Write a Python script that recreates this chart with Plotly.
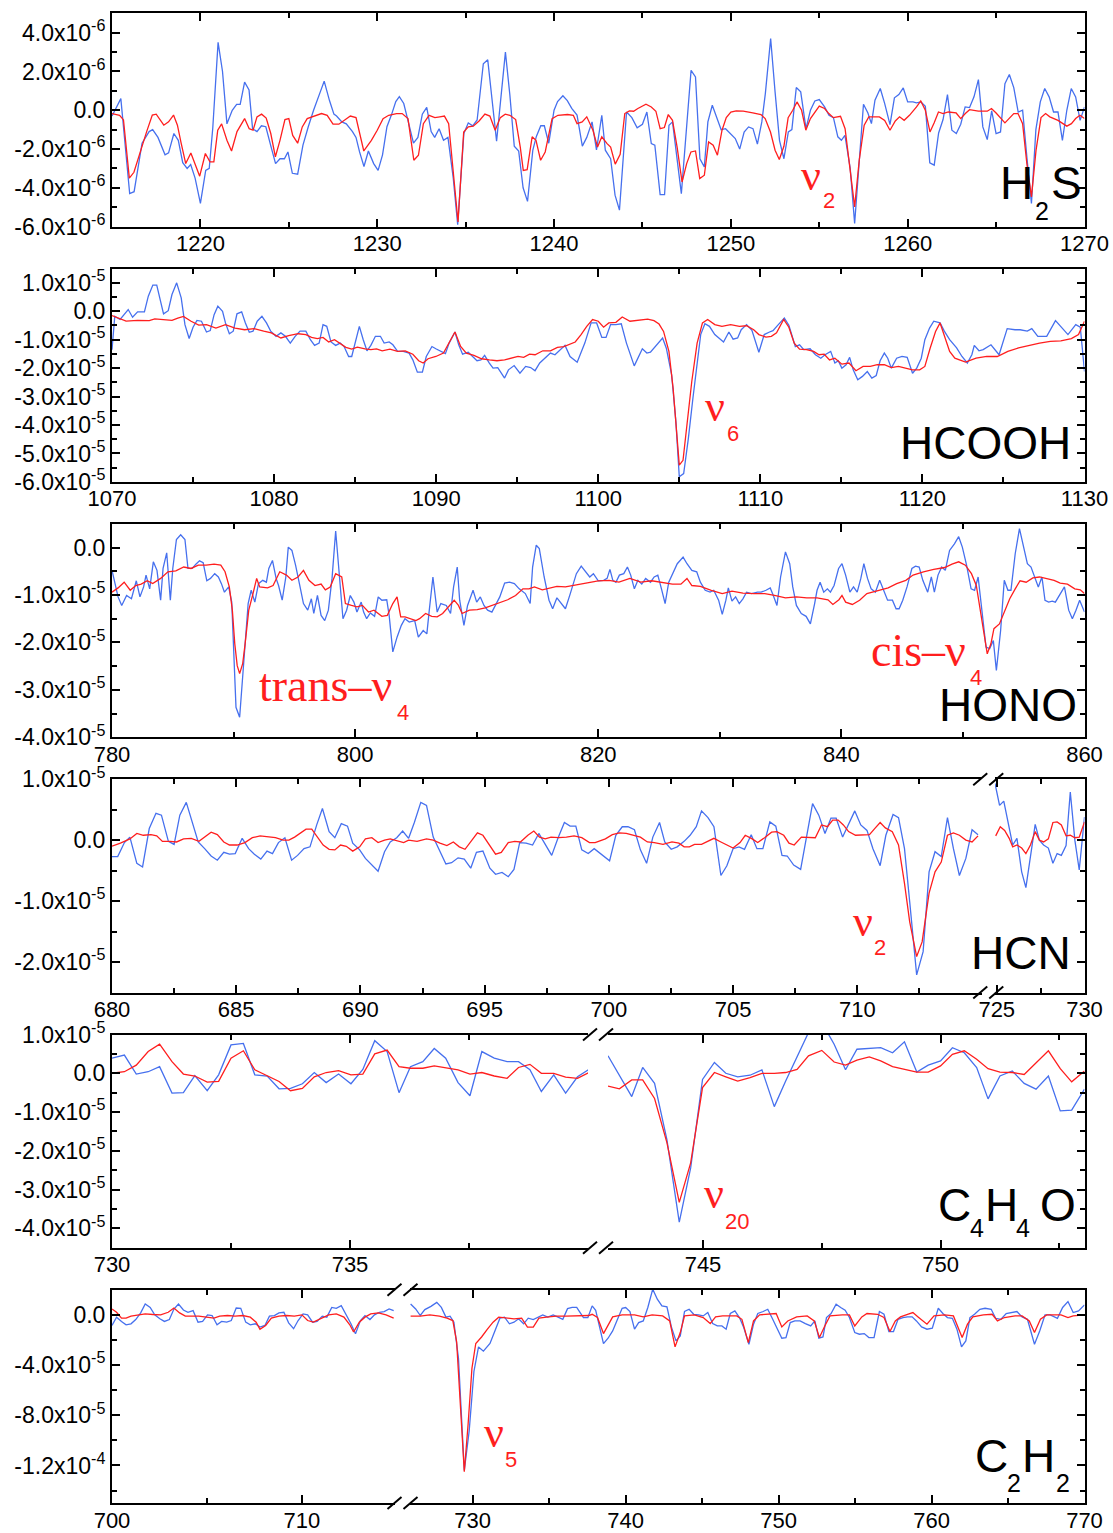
import plotly.graph_objects as go

W, H = 1113, 1533
FONT = "Liberation Sans, Arial, Helvetica, sans-serif"
SERIF = "Liberation Serif, Times New Roman, serif"
BLUE = "rgb(70,112,238)"
RED = "rgb(255,30,30)"

# ---------------- data (y in the panel's unit) ----------------
# H2S, unit 1e-6
h2s_blue_x = [
    1215.0, 1215.5, 1216.0, 1216.25, 1216.7, 1217.1, 1217.3, 1217.6, 1218.0, 1218.2,
    1218.5, 1218.75, 1219.0, 1219.25, 1219.45, 1219.7, 1220.0, 1220.3, 1220.5, 1220.7,
    1221.0, 1221.25, 1221.5, 1221.8, 1222.05, 1222.25, 1222.5, 1222.75, 1222.95, 1223.2,
    1223.45, 1223.7, 1224.0, 1224.25, 1224.5, 1224.75, 1224.95, 1225.2, 1225.5, 1225.8,
    1226.1, 1226.4, 1226.8, 1227.0, 1227.3, 1227.55, 1227.7, 1228.0, 1228.25, 1228.6,
    1228.8, 1229.0, 1229.25, 1229.5, 1229.8, 1230.05, 1230.3, 1230.55, 1230.8, 1231.05,
    1231.25, 1231.5, 1231.8, 1232.05, 1232.3, 1232.55, 1232.8, 1233.05, 1233.25, 1233.5,
    1233.75, 1234.0, 1234.3, 1234.55, 1234.9, 1235.15, 1235.4, 1235.65, 1236.0, 1236.25,
    1236.75, 1237.0, 1237.25, 1237.5, 1237.75, 1238.0, 1238.25, 1238.5, 1238.8, 1239.0,
    1239.25, 1239.45, 1239.7, 1240.0, 1240.2, 1240.5, 1240.75, 1241.0, 1241.3, 1241.6,
    1241.85, 1242.15, 1242.4, 1242.7, 1242.9, 1243.2, 1243.45, 1243.7, 1244.1, 1244.4,
    1244.7, 1245.0, 1245.25, 1245.5, 1245.7, 1246.0, 1246.25, 1246.5, 1246.7, 1247.2,
    1247.75, 1248.0, 1248.25, 1248.5, 1248.7, 1248.95, 1249.2, 1249.45, 1249.7, 1250.0,
    1250.25, 1250.5, 1250.75, 1251.0, 1251.25, 1251.5, 1251.75, 1251.95, 1252.25, 1252.5,
    1252.75, 1253.0, 1253.25, 1253.45, 1253.7, 1253.95, 1254.25, 1254.5, 1254.75, 1255.0,
    1255.3, 1255.55, 1255.8, 1256.05, 1256.25, 1256.45, 1256.75, 1257.0, 1257.25, 1257.5,
    1257.75, 1257.95, 1258.15, 1258.45, 1258.7, 1259.0, 1259.25, 1259.5, 1259.75, 1260.0,
    1260.3, 1260.5, 1260.75, 1261.0, 1261.25, 1261.5, 1261.75, 1262.0, 1262.25, 1262.5,
    1262.75, 1263.0, 1263.25, 1263.5, 1263.75, 1264.0, 1264.25, 1264.5, 1264.75, 1265.0,
    1265.25, 1265.5, 1265.75, 1266.0, 1266.25, 1266.5, 1266.75, 1267.0, 1267.25, 1267.5,
    1267.75, 1268.0, 1268.25, 1268.5, 1268.75, 1269.0, 1269.25, 1269.5, 1269.75, 1270.0,
]
h2s_blue_y = [
    -0.3, 0.6, -4.3, -4.2, -1.7, -1.1, -1.0, -1.4, -2.3, -2.2,
    -1.2, -1.55, -2.7, -3.0, -2.8, -3.5, -4.8, -3.1, -3.0, -0.9,
    3.5, 2.0, -0.7, 0.0, 0.3, 0.3, 1.45, 1.05, -0.95, -1.1,
    -0.8, -0.85, -1.9, -2.75, -2.5, -2.5, -2.15, -3.25, -3.3, -1.8,
    -0.85, 0.0, 1.0, 1.5, 0.5, -0.2, -0.3, -0.6, -0.7, -1.1,
    -1.4, -2.15, -2.9, -2.1, -2.75, -3.1, -2.3, -0.85, -0.25, 0.45,
    0.7, 0.35, -0.75, -1.7, -1.4, -0.2, 0.15, -1.1, -1.4, -0.95,
    -1.55, -1.4, -3.5, -5.9, -1.2, -0.65, -0.8, -0.5, 2.4, 2.6,
    -1.6, 0.8, 3.0, 0.8, -1.85, -2.1, -4.0, -4.7, -2.05, -1.35,
    -0.8, -0.8, -1.7, 0.0, 0.45, 0.75, 0.5, 0.1, -0.25, -1.85,
    -1.4, -0.6, -2.05, -0.26, -2.06, -2.5, -4.38, -5.15, -0.09, -0.38,
    -0.91, -0.72, -0.09, -1.72, -1.8, -4.35, -4.35, -0.77, -0.6, -4.3,
    2.06, 1.72, -2.5, -2.92, -0.6, 0.26, -0.34, -1.0, -0.95, -1.2,
    -1.46, -2.0, -1.12, -0.86, -0.95, -1.75, -0.6, 0.86, 3.7, 0.95,
    -1.55, -2.5, -1.12, -1.0, 1.17, 0.95, -0.95, 0.0, 0.48, 0.55,
    0.17, -0.26, -0.38, -1.37, -1.55, -1.29, -3.0, -5.84, -2.5, 0.31,
    -0.14, -0.69, 0.52, 1.12, 0.34, -0.74, 0.64, 0.81, 1.15, 0.43,
    0.43, 0.38, 0.43, 0.2, -2.71, -2.83, -1.17, -0.48, 0.81, -1.03,
    -1.2, -0.72, 0.17, 0.14, 0.69, 1.58, -0.86, -1.51, -0.03, -1.2,
    -1.12, 1.37, 1.84, 1.17, -0.09, 0.0, -2.5, -4.81, -1.0, 0.43,
    1.12, 0.69, -0.09, -0.09, -1.55, 0.0, 1.12, 0.69, -0.52, 0.17,
]
h2s_red_x = [
    1215.0, 1215.43, 1215.65, 1215.98, 1216.24, 1216.67, 1216.96, 1217.28, 1217.5, 1217.93,
    1218.2, 1218.48, 1218.7, 1218.91, 1219.17, 1219.46, 1219.72, 1219.96, 1220.28, 1220.54,
    1220.76, 1220.98, 1221.2, 1221.5, 1221.76, 1222.07, 1222.5, 1222.76, 1222.98, 1223.2,
    1223.46, 1223.72, 1223.98, 1224.24, 1224.5, 1224.78, 1225.0, 1225.22, 1225.5, 1225.76,
    1226.04, 1226.41, 1226.85, 1227.17, 1227.5, 1227.83, 1228.15, 1228.48, 1228.8, 1229.24,
    1229.67, 1230.0, 1230.33, 1230.65, 1231.09, 1231.41, 1231.74, 1232.07, 1232.33, 1232.61,
    1232.93, 1233.26, 1233.54, 1233.8, 1234.04, 1234.57, 1234.89, 1235.15, 1235.43, 1235.76,
    1236.09, 1236.37, 1236.67, 1236.96, 1237.24, 1237.5, 1237.83, 1238.09, 1238.26, 1238.48,
    1238.76, 1238.98, 1239.24, 1239.5, 1239.89, 1240.22, 1240.76, 1241.09, 1241.3, 1241.59,
    1241.85, 1242.2, 1242.46, 1242.7, 1243.0, 1243.2, 1243.46, 1243.74, 1244.0, 1244.26,
    1244.5, 1244.74, 1245.2, 1245.5, 1245.76, 1246.0, 1246.24, 1246.46, 1246.7, 1246.96,
    1247.24, 1247.5, 1247.74, 1248.0, 1248.24, 1248.5, 1248.74, 1249.0, 1249.24, 1249.5,
    1249.74, 1250.0, 1250.3, 1250.7, 1251.24, 1251.7, 1251.94, 1252.24, 1252.5, 1252.74,
    1253.0, 1253.24, 1253.5, 1253.74, 1254.0, 1254.24, 1254.5, 1254.74, 1255.0, 1255.3,
    1255.54, 1255.8, 1256.2, 1256.46, 1256.74, 1257.0, 1257.26, 1257.54, 1257.8, 1258.4,
    1258.7, 1259.0, 1259.3, 1259.54, 1259.8, 1260.1, 1260.5, 1260.74, 1261.0, 1261.26,
    1261.5, 1261.74, 1262.0, 1262.3, 1262.74, 1263.0, 1263.26, 1263.5, 1264.0, 1264.5,
    1264.74, 1265.0, 1265.5, 1265.74, 1266.0, 1266.24, 1266.5, 1266.74, 1267.0, 1267.26,
    1267.54, 1267.8, 1268.04, 1268.5, 1269.0, 1269.26, 1269.5, 1269.74, 1270.0,
]
h2s_red_y = [
    -0.17, -0.26, -0.5, -3.5, -3.2, -1.9, -1.1, -0.25, -0.2, -0.77,
    -0.6, -0.25, -0.77, -1.7, -2.75, -2.2, -2.85, -3.4, -2.23, -2.66,
    -2.66, -1.03, -0.7, -1.55, -2.1, -1.1, -0.43, -0.95, -1.03, -0.34,
    -0.2, -0.4, -1.2, -2.4, -1.55, -0.48, -0.43, -1.3, -1.7, -0.86,
    -0.43, -0.3, -0.17, -0.26, -0.72, -0.72, -0.5, -0.3, -0.38, -2.1,
    -1.55, -1.03, -0.43, -0.26, -0.17, -0.17, -0.43, -2.58, -2.32, -0.69,
    -0.26, -0.38, -0.34, -0.3, -0.69, -5.76, -1.12, -0.86, -0.82, -0.55,
    -0.2, -0.3, -1.03, -0.38, -0.2, -0.26, -0.48, -1.9, -3.1, -3.06,
    -1.37, -1.55, -2.58, -2.15, -0.43, -0.26, -0.22, -0.26, -0.69, -0.6,
    -0.34, -1.03, -1.9, -1.37, -1.72, -1.9, -2.78, -2.27, -0.17, -0.03,
    -0.05, 0.09, 0.31, 0.17, -0.05, -0.95, -0.89, -0.22, -0.52, -1.9,
    -3.7, -2.75, -2.15, -2.1, -3.52, -3.35, -1.63, -1.8, -2.32, -1.03,
    -0.38, -0.09, -0.03, -0.05, -0.14, -0.22, -0.43, -1.12, -2.06, -2.54,
    -1.86, -0.38, 0.0, 0.43, 0.0, -1.03, -0.43, -0.09, 0.21, 0.09,
    -0.17, -0.38, -0.31, -0.95, -2.92, -4.98, -2.58, -0.77, -0.34, -0.34,
    -0.52, -1.03, -0.55, -0.34, -0.52, -0.26, 0.17, 0.48, 0.0, -1.12,
    -0.65, -0.09, -0.17, -0.09, -0.14, -0.43, -0.17, 0.03, -0.05, -0.05,
    0.09, -0.14, -0.65, -0.43, -0.17, -0.17, -0.69, -2.75, -4.47, -2.06,
    -0.38, -0.17, -0.34, -0.52, -0.82, -0.69, -0.43, -0.26, -0.43,
]

# HCOOH, unit 1e-5
hcooh_blue_x = [
    1070.0, 1070.17, 1070.5, 1071.0, 1071.27, 1071.58, 1072.0, 1072.24, 1072.52, 1072.76,
    1073.18, 1073.47, 1073.7, 1073.99, 1074.27, 1074.5, 1074.76, 1075.0, 1075.24, 1075.52,
    1075.83, 1076.06, 1076.3, 1076.53, 1076.82, 1077.0, 1077.24, 1077.48, 1077.71, 1078.0,
    1078.23, 1078.47, 1078.7, 1078.96, 1079.25, 1079.53, 1079.79, 1080.12, 1080.42, 1080.7,
    1081.0, 1081.3, 1081.6, 1081.96, 1082.24, 1082.5, 1082.78, 1083.02, 1083.25, 1083.51,
    1083.8, 1084.08, 1084.32, 1084.6, 1084.79, 1085.02, 1085.26, 1085.5, 1085.73, 1085.97,
    1086.25, 1086.56, 1086.79, 1087.1, 1087.33, 1087.62, 1087.97, 1088.33, 1088.56, 1088.84,
    1089.15, 1089.39, 1089.74, 1089.98, 1090.26, 1090.57, 1090.8, 1091.16, 1091.39, 1091.63,
    1091.98, 1092.22, 1092.52, 1092.76, 1092.99, 1093.28, 1093.51, 1093.8, 1094.22, 1094.46,
    1094.81, 1095.17, 1095.52, 1095.83, 1096.1, 1096.39, 1096.7, 1097.05, 1097.33, 1097.64,
    1097.95, 1098.26, 1098.7, 1099.17, 1099.56, 1099.9, 1100.22, 1100.48, 1100.76, 1101.09,
    1101.42, 1101.74, 1102.22, 1102.72, 1103.0, 1103.22, 1103.6, 1103.97, 1104.2, 1104.53,
    1104.79, 1105.0, 1105.27, 1105.56, 1105.84, 1106.1, 1106.32, 1106.58, 1106.86, 1107.19,
    1107.73, 1108.06, 1108.32, 1108.6, 1108.82, 1109.15, 1109.48, 1109.91, 1110.24, 1110.57,
    1110.78, 1111.11, 1111.48, 1111.76, 1112.16, 1112.42, 1112.68, 1113.07, 1113.4, 1113.73,
    1113.99, 1114.34, 1114.6, 1114.81, 1115.03, 1115.29, 1115.51, 1115.73, 1116.01, 1116.3,
    1116.6, 1116.88, 1117.15, 1117.39, 1117.65, 1117.86, 1118.08, 1118.41, 1118.74, 1119.06,
    1119.39, 1119.65, 1119.93, 1120.15, 1120.44, 1120.7, 1121.09, 1121.35, 1121.68, 1122.11,
    1122.44, 1122.77, 1123.05, 1123.2, 1123.49, 1123.75, 1124.23, 1124.73, 1125.23, 1125.71,
    1126.03, 1126.47, 1126.75, 1127.12, 1127.67, 1128.21, 1128.58, 1128.98, 1129.46, 1129.74,
    1130.0,
]
hcooh_blue_y = [
    -1.35, -0.18, -0.29, 0.06, -0.21, -0.02, -0.02, 0.53, 0.92, 0.92,
    -0.09, 0.02, 0.59, 1.0, 0.47, -0.47, -0.96, -0.56, -0.32, -0.35,
    -0.73, -0.68, -0.12, 0.18, 0.0, -0.41, -0.79, -0.7, -0.09, -0.02,
    -0.41, -0.74, -0.7, -0.35, -0.18, -0.41, -0.7, -0.88, -0.76, -0.88,
    -1.12, -0.88, -0.7, -0.7, -1.0, -1.2, -1.12, -0.47, -0.53, -1.08,
    -1.2, -1.12, -1.24, -1.59, -1.59, -1.04, -0.53, -1.0, -1.39, -1.2,
    -0.88, -0.88, -1.12, -1.08, -1.18, -1.41, -1.41, -1.47, -1.71, -2.14,
    -2.14, -1.59, -1.24, -1.32, -1.41, -1.49, -1.12, -0.73, -1.18, -1.51,
    -1.44, -1.59, -1.74, -1.71, -1.55, -1.82, -2.0, -1.98, -2.35, -2.06,
    -1.91, -2.18, -1.94, -1.98, -2.09, -1.82, -1.65, -1.47, -1.53, -1.35,
    -1.2, -1.59, -1.79, -1.12, -0.41, -0.41, -0.92, -0.92, -0.47, -0.47,
    -0.44, -1.12, -1.92, -1.32, -1.47, -1.44, -1.2, -0.94, -1.3, -2.24,
    -3.88, -5.82, -5.71, -4.47, -3.06, -1.76, -0.82, -0.44, -0.53, -0.82,
    -1.08, -0.73, -0.98, -0.94, -0.65, -0.47, -0.67, -1.44, -0.82, -0.73,
    -0.68, -0.47, -0.24, -0.49, -1.24, -1.18, -1.35, -1.32, -1.53, -1.65,
    -1.53, -1.41, -1.82, -1.74, -2.0, -1.88, -1.62, -2.06, -2.41, -2.29,
    -2.12, -2.35, -2.26, -1.74, -1.47, -1.65, -2.0, -1.65, -1.59, -1.62,
    -2.18, -2.0, -1.65, -1.0, -0.59, -0.35, -0.41, -0.7, -1.0, -1.29,
    -1.59, -1.82, -1.53, -1.2, -1.39, -1.35, -1.18, -1.53, -0.61, -0.65,
    -0.65, -0.7, -0.61, -0.88, -0.88, -0.33, -0.56, -0.82, -0.47, -0.56,
    -2.12,
]
hcooh_red_x = [
    1070.0, 1070.3, 1070.87, 1071.58, 1072.3, 1072.64, 1073.0, 1073.7, 1074.06, 1074.41,
    1074.88, 1075.35, 1075.83, 1076.41, 1077.0, 1077.59, 1078.18, 1078.77, 1079.36, 1079.83,
    1080.42, 1080.9, 1081.49, 1081.96, 1082.31, 1082.67, 1083.02, 1083.37, 1083.73, 1084.08,
    1084.43, 1084.79, 1085.14, 1085.61, 1085.97, 1086.32, 1086.67, 1087.15, 1087.62, 1088.09,
    1088.56, 1088.92, 1089.2, 1089.5, 1089.98, 1090.45, 1090.8, 1091.16, 1091.51, 1091.86,
    1092.33, 1092.8, 1093.28, 1093.75, 1094.22, 1094.69, 1095.05, 1095.4, 1095.76, 1096.1,
    1096.58, 1097.05, 1097.48, 1097.88, 1098.23, 1098.58, 1098.94, 1099.29, 1099.65, 1100.0,
    1100.33, 1100.65, 1101.09, 1101.48, 1101.96, 1102.51, 1103.05, 1103.44, 1103.75, 1104.03,
    1104.36, 1104.62, 1104.84, 1105.0, 1105.23, 1105.49, 1105.77, 1106.1, 1106.43, 1106.75,
    1107.19, 1107.63, 1108.17, 1108.71, 1109.15, 1109.59, 1109.91, 1110.35, 1110.68, 1111.0,
    1111.44, 1111.76, 1112.09, 1112.42, 1112.85, 1113.29, 1113.62, 1113.94, 1114.27, 1114.6,
    1115.03, 1115.47, 1115.9, 1116.34, 1116.78, 1117.21, 1117.65, 1118.08, 1118.52, 1118.95,
    1119.39, 1119.83, 1120.15, 1120.48, 1120.81, 1121.09, 1121.35, 1121.68, 1122.0, 1122.66,
    1123.31, 1123.97, 1124.62, 1125.27, 1125.93, 1126.58, 1127.23, 1127.89, 1128.54, 1129.19,
    1129.63, 1130.0,
]
hcooh_red_y = [
    -0.15, -0.21, -0.35, -0.32, -0.33, -0.27, -0.29, -0.32, -0.24, -0.18,
    -0.35, -0.49, -0.47, -0.59, -0.47, -0.59, -0.65, -0.61, -0.7, -0.76,
    -0.94, -0.86, -0.79, -0.82, -0.92, -0.96, -0.92, -1.08, -1.0, -1.12,
    -1.27, -1.33, -1.26, -1.32, -1.35, -1.32, -1.39, -1.33, -1.41, -1.39,
    -1.51, -1.74, -1.82, -1.67, -1.59, -1.47, -1.08, -0.73, -1.24, -1.47,
    -1.55, -1.67, -1.71, -1.74, -1.71, -1.65, -1.59, -1.62, -1.51, -1.53,
    -1.39, -1.39, -1.27, -1.24, -1.15, -1.08, -0.82, -0.53, -0.29, -0.35,
    -0.56, -0.41, -0.39, -0.2, -0.35, -0.32, -0.28, -0.33, -0.45, -0.71,
    -1.41, -2.71, -4.12, -5.41, -5.24, -3.88, -2.47, -1.12, -0.41, -0.29,
    -0.47, -0.53, -0.47, -0.53, -0.51, -0.65, -0.82, -0.91, -0.88, -0.76,
    -0.29, -0.56, -1.12, -1.33, -1.35, -1.41, -1.53, -1.51, -1.71, -1.65,
    -1.86, -1.82, -2.09, -1.94, -1.94, -1.88, -1.88, -1.98, -1.94, -2.0,
    -2.06, -2.06, -1.94, -1.29, -0.71, -0.41, -0.88, -1.41, -1.65, -1.79,
    -1.65, -1.59, -1.59, -1.41, -1.29, -1.2, -1.12, -1.06, -1.04, -0.96,
    -0.82, -0.35,
]

# HONO, unit 1e-5
hono_blue_x = [
    780.0, 780.2, 780.5, 780.8, 781.2, 781.6, 782.0, 782.3, 782.6, 782.8,
    783.1, 783.4, 783.7, 784.0, 784.2, 784.5, 784.8, 785.0, 785.3, 785.65,
    786.0, 786.25, 786.6, 786.9, 787.2, 787.5, 787.8, 788.1, 788.45, 788.75,
    789.0, 789.25, 789.6, 789.85, 790.2, 790.5, 790.8, 791.2, 791.45, 791.75,
    792.05, 792.4, 792.7, 792.9, 793.2, 793.5, 793.7, 794.0, 794.3, 794.5,
    794.8, 795.1, 795.45, 795.75, 796.1, 796.4, 796.6, 796.9, 797.2, 797.5,
    797.8, 798.1, 798.4, 798.7, 799.0, 799.3, 799.6, 799.9, 800.15, 800.5,
    800.7, 800.95, 801.25, 801.6, 801.9, 802.2, 802.6, 802.8, 803.1, 803.45,
    803.8, 804.1, 804.45, 804.9, 805.2, 805.6, 805.9, 806.1, 806.4, 806.75,
    807.05, 807.5, 807.85, 808.1, 808.4, 808.6, 808.95, 809.25, 809.7, 810.0,
    810.3, 810.6, 810.9, 811.25, 811.55, 811.9, 812.3, 812.7, 813.1, 813.5,
    814.0, 814.4, 814.6, 814.9, 815.15, 815.55, 815.95, 816.25, 816.6, 816.95,
    817.3, 817.7, 818.2, 818.6, 819.0, 819.3, 819.6, 820.0, 820.44, 820.73,
    820.96, 821.2, 821.45, 821.74, 822.1, 822.4, 822.67, 822.97, 823.26, 823.58,
    823.9, 824.3, 824.6, 824.9, 825.2, 825.5, 825.8, 826.1, 826.5, 826.98,
    827.3, 827.7, 828.1, 828.4, 828.8, 829.2, 829.5, 829.9, 830.2, 830.5,
    830.7, 831.0, 831.3, 831.6, 831.9, 832.2, 832.6, 833.1, 833.4, 833.8,
    834.15, 834.4, 834.7, 835.0, 835.4, 835.75, 836.0, 836.3, 836.7, 837.1,
    837.45, 837.8, 838.0, 838.25, 838.55, 838.85, 839.1, 839.4, 839.77, 840.05,
    840.35, 840.7, 841.0, 841.3, 841.6, 841.85, 842.15, 842.45, 842.8, 843.15,
    843.5, 843.8, 844.2, 844.5, 844.75, 845.05, 845.4, 845.8, 846.1, 846.4,
    846.7, 847.1, 847.4, 847.65, 847.95, 848.25, 848.55, 848.9, 849.3, 849.65,
    849.95, 850.3, 850.67, 850.96, 851.25, 851.55, 851.9, 852.2, 852.5, 852.75,
    853.1, 853.4, 853.7, 853.95, 854.3, 854.65, 855.0, 855.3, 855.6, 855.9,
    856.2, 856.5, 856.75, 857.05, 857.35, 857.6, 858.0, 858.35, 858.7, 859.0,
    859.3, 859.6, 860.0,
]
hono_blue_y = [
    -0.48, -0.69, -1.04, -1.22, -1.01, -1.08, -0.7, -1.04, -0.83, -0.58,
    -0.87, -0.3, -0.48, -1.11, -0.44, -0.11, -1.11, -0.44, 0.17, 0.27,
    0.17, -0.44, -0.44, -0.35, -0.28, -0.32, -0.7, -0.65, -0.55, -0.62,
    -0.76, -0.94, -0.83, -1.15, -3.37, -3.58, -2.59, -1.18, -0.9, -1.15,
    -0.76, -0.69, -0.73, -0.44, -0.27, -0.65, -0.8, -1.11, -0.62, 0.01,
    -0.06, -0.37, -0.8, -1.18, -1.32, -1.08, -1.39, -1.01, -1.43, -1.54,
    -1.32, -0.65, 0.35, -0.51, -1.5, -1.32, -1.01, -1.15, -1.36, -1.15,
    -1.36, -1.5, -1.38, -1.45, -1.04, -1.11, -1.1, -1.43, -2.2, -1.89,
    -1.64, -1.5, -1.57, -1.54, -1.89, -1.75, -1.82, -1.32, -0.62, -1.36,
    -1.18, -1.22, -1.39, -0.83, -0.41, -1.11, -1.64, -1.22, -0.9, -1.15,
    -1.04, -1.22, -1.32, -1.36, -1.22, -1.04, -0.75, -0.73, -0.76, -0.87,
    -0.97, -1.18, -0.41, 0.05, -0.02, -0.62, -1.11, -1.29, -1.06, -1.18,
    -1.29, -0.97, -0.55, -0.39, -0.51, -0.62, -0.55, -0.7, -0.69, -0.65,
    -0.46, -0.69, -0.73, -0.58, -0.55, -0.41, -0.58, -0.87, -0.69, -0.77,
    -0.65, -0.73, -0.62, -0.58, -0.87, -1.18, -0.73, -0.55, -0.34, -0.2,
    -0.34, -0.48, -0.51, -0.73, -0.9, -0.94, -0.9, -1.11, -1.41, -1.11,
    -0.85, -1.13, -1.04, -1.18, -1.08, -0.94, -0.97, -0.94, -0.94, -0.9,
    -0.85, -1.01, -1.22, -0.62, -0.09, -0.34, -0.83, -1.22, -1.39, -1.45,
    -1.61, -1.18, -0.9, -0.73, -0.94, -0.87, -0.94, -0.8, -0.44, -0.34,
    -0.58, -0.94, -0.83, -0.94, -0.65, -0.34, -0.65, -0.87, -0.94, -0.69,
    -0.94, -1.11, -1.11, -1.29, -1.29, -1.11, -0.83, -0.44, -0.39, -0.41,
    -0.69, -0.94, -0.62, -0.94, -0.58, -0.41, -0.48, -0.06, 0.08, 0.23,
    0.01, -0.37, -0.87, -0.9, -0.62, -1.32, -2.1, -2.13, -1.96, -2.59,
    -1.75, -0.69, -0.9, -0.9, -0.13, 0.4, 0.01, -0.34, -0.41, -0.62,
    -0.83, -0.62, -1.11, -1.15, -1.13, -1.15, -0.97, -0.83, -1.32, -1.5,
    -1.32, -1.11, -1.36,
]
hono_red_x = [
    780.0, 780.5, 781.0, 781.5, 781.95, 782.4, 782.9, 783.35, 784.0, 784.6,
    785.25, 785.9, 786.5, 787.1, 787.75, 788.4, 788.95, 789.3, 789.65, 789.9,
    790.1, 790.3, 790.5, 790.75, 790.95, 791.25, 791.6, 791.9, 792.15, 792.8,
    793.25, 793.8, 794.35, 794.8, 795.3, 795.75, 796.2, 796.7, 797.2, 797.55,
    797.95, 798.4, 798.9, 799.2, 799.7, 800.15, 800.6, 801.1, 801.55, 802.2,
    802.65, 803.1, 803.45, 803.75, 804.1, 804.55, 805.0, 805.3, 805.8, 806.3,
    806.75, 807.2, 807.7, 808.15, 808.5, 808.8, 809.4, 810.05, 810.7, 811.3,
    811.9, 812.55, 813.2, 813.8, 814.3, 814.75, 815.4, 816.0, 816.6, 817.3,
    817.9, 818.55, 819.2, 820.0, 820.9, 821.7, 822.6, 823.5, 824.4, 825.2,
    826.1, 826.8, 827.3, 827.7, 828.4, 829.3, 830.2, 831.0, 831.9, 832.8,
    833.7, 834.5, 835.4, 836.3, 837.15, 838.0, 838.9, 839.3, 839.8, 840.05,
    840.35, 840.9, 841.5, 842.1, 843.0, 843.85, 844.55, 845.3, 845.9, 846.75,
    847.6, 848.5, 849.1, 849.65, 850.2, 850.7, 851.1, 851.4, 851.7, 852.0,
    852.3, 852.55, 853.0, 853.4, 853.85, 854.3, 854.7, 855.2, 855.75, 856.3,
    856.9, 857.5, 858.0, 858.6, 859.2, 859.65, 860.0,
]
hono_red_y = [
    -0.94, -0.85, -0.73, -0.9, -0.8, -0.77, -0.7, -0.76, -0.65, -0.51,
    -0.49, -0.41, -0.44, -0.37, -0.37, -0.35, -0.37, -0.51, -0.83, -1.32,
    -2.03, -2.49, -2.66, -2.45, -2.03, -1.32, -0.97, -0.65, -0.83, -0.85,
    -0.8, -0.51, -0.58, -0.69, -0.62, -0.48, -0.69, -0.8, -0.77, -0.89,
    -0.83, -0.55, -0.62, -1.18, -1.22, -1.25, -1.22, -1.36, -1.32, -1.45,
    -1.43, -1.18, -1.04, -1.46, -1.46, -1.5, -1.54, -1.5, -1.39, -1.45,
    -1.46, -1.39, -1.25, -1.11, -1.22, -1.39, -1.32, -1.31, -1.27, -1.22,
    -1.17, -1.1, -1.01, -0.87, -0.87, -0.83, -0.89, -0.85, -0.82, -0.83,
    -0.8, -0.77, -0.73, -0.7, -0.69, -0.73, -0.65, -0.73, -0.7, -0.73,
    -0.77, -0.77, -0.65, -0.8, -0.82, -0.9, -0.97, -0.92, -0.96, -0.97,
    -0.97, -1.01, -1.06, -1.04, -1.06, -1.06, -1.1, -1.2, -1.1, -1.01,
    -1.15, -1.2, -1.11, -0.97, -0.9, -0.85, -0.76, -0.69, -0.58, -0.51,
    -0.46, -0.42, -0.35, -0.3, -0.37, -0.55, -0.8, -1.25, -1.75, -2.24,
    -2.03, -1.71, -1.61, -1.36, -1.08, -0.87, -0.7, -0.73, -0.64, -0.62,
    -0.65, -0.69, -0.75, -0.77, -0.87, -0.89, -0.97,
]

# HCN, unit 1e-5 (broken axis 715 | 725)
hcn_blue_x = [
    680.0, 680.23, 680.5, 680.72, 681.0, 681.23, 681.5, 681.77, 681.99, 682.27,
    682.5, 682.73, 682.99, 683.24, 683.47, 683.73, 683.99, 684.24, 684.5, 684.73,
    684.96, 685.24, 685.5, 685.73, 685.99, 686.24, 686.46, 686.7, 686.96, 687.23,
    687.47, 687.73, 687.97, 688.24, 688.47, 688.74, 688.97, 689.23, 689.48, 689.69,
    689.97, 690.2, 690.46, 690.71, 690.97, 691.2, 691.46, 691.7, 691.94, 692.17,
    692.43, 692.66, 692.93, 693.17, 693.44, 693.67, 693.93, 694.18, 694.44, 694.67,
    694.93, 695.21, 695.44, 695.7, 695.95, 696.18, 696.41, 696.67, 696.93, 697.18,
    697.44, 697.7, 697.95, 698.21, 698.44, 698.67, 698.91, 699.17, 699.41, 699.65,
    700.03, 700.28, 700.54, 700.77, 701.03, 701.27, 701.52, 701.77, 702.04, 702.25,
    702.51, 702.75, 703.03, 703.27, 703.52, 703.73, 703.99, 704.23, 704.51, 704.75,
    705.0, 705.24, 705.46, 705.73, 705.96, 706.2, 706.48, 706.72, 706.97, 707.18,
    707.44, 707.72, 707.96, 708.2, 708.45, 708.7, 708.94, 709.15, 709.41, 709.65,
    709.9, 710.14, 710.39, 710.63, 710.92, 711.15, 711.44, 711.66, 711.9, 712.11,
    712.39, 712.65, 712.89, 713.13, 713.38, 713.63, 713.87, 714.11, 714.37, 714.62,
    714.86, 724.9, 725.16, 725.4, 725.65, 725.91, 726.15, 726.42, 726.66, 726.92,
    727.19, 727.43, 727.67, 727.94, 728.2, 728.44, 728.68, 728.95, 729.19, 729.45,
    729.7, 730.0,
]
hcn_blue_y = [
    -0.27, -0.27, -0.04, 0.05, -0.38, -0.44, 0.19, 0.44, 0.41, -0.02,
    -0.07, 0.41, 0.62, 0.27, -0.03, -0.14, -0.26, -0.33, -0.2, -0.23,
    -0.22, 0.03, -0.14, -0.23, -0.31, -0.18, -0.22, -0.04, 0.04, -0.33,
    -0.25, -0.14, -0.11, 0.25, 0.52, 0.14, 0.04, 0.27, 0.23, -0.05,
    -0.16, -0.3, -0.41, -0.51, -0.19, -0.03, 0.04, 0.15, 0.03, 0.29,
    0.62, 0.57, 0.05, -0.16, -0.39, -0.37, -0.29, -0.31, -0.46, -0.2,
    -0.18, -0.46, -0.56, -0.53, -0.6, -0.48, -0.04, -0.05, -0.08, 0.11,
    -0.08, -0.25, 0.03, 0.29, 0.23, 0.23, -0.16, -0.22, -0.14, -0.22,
    -0.34, 0.08, 0.22, 0.22, 0.17, -0.16, -0.38, 0.05, 0.29, -0.03,
    -0.15, -0.11, -0.02, 0.08, 0.22, 0.48, 0.37, 0.22, -0.58, -0.42,
    -0.14, -0.11, -0.15, 0.09, -0.14, -0.14, 0.3, 0.23, -0.25, -0.26,
    -0.41, -0.48, 0.07, 0.6, 0.41, 0.11, 0.36, 0.36, 0.05, 0.27,
    0.48, 0.25, 0.16, -0.14, -0.42, 0.08, 0.42, 0.37, -0.14, -1.01,
    -2.21, -1.83, -0.52, -0.19, -0.27, 0.37, -0.14, -0.58, -0.3, 0.17,
    0.09, 0.93, 0.57, 0.64, 0.27, -0.08, 0.03, -0.52, -0.78, -0.25,
    0.26, 0.0, -0.08, -0.13, -0.38, -0.22, -0.25, -0.09, 0.79, 0.0,
    -0.49, 0.38,
]
hcn_red_x = [
    680.0, 680.34, 680.72, 681.0, 681.26, 681.57, 681.8, 682.03, 682.34, 682.6,
    682.88, 683.19, 683.5, 683.73, 683.99, 684.24, 684.5, 684.73, 685.04, 685.35,
    685.65, 685.96, 686.27, 686.58, 686.89, 687.12, 687.35, 687.58, 687.81, 688.04,
    688.24, 688.5, 688.74, 688.97, 689.2, 689.43, 689.69, 689.97, 690.2, 690.46,
    690.71, 690.97, 691.2, 691.51, 691.74, 691.94, 692.28, 692.66, 692.93, 693.2,
    693.48, 693.74, 693.98, 694.21, 694.44, 694.71, 694.93, 695.21, 695.44, 695.67,
    695.95, 696.21, 696.44, 696.74, 696.98, 697.21, 697.44, 697.67, 697.98, 698.29,
    698.6, 698.91, 699.22, 699.45, 699.86, 700.14, 700.42, 700.7, 700.99, 701.27,
    701.55, 701.83, 702.18, 702.54, 702.82, 703.03, 703.24, 703.45, 703.73, 703.97,
    704.23, 704.51, 704.76, 705.0, 705.28, 705.49, 705.77, 705.99, 706.27, 706.55,
    706.76, 707.04, 707.25, 707.46, 707.75, 708.03, 708.31, 708.56, 708.8, 709.01,
    709.23, 709.44, 709.65, 709.93, 710.21, 710.49, 710.7, 710.92, 711.13, 711.41,
    711.66, 711.9, 712.11, 712.39, 712.61, 712.89, 713.13, 713.38, 713.63, 713.87,
    714.11, 714.37, 714.62, 714.86, 724.94, 725.2, 725.45, 725.71, 725.91, 726.15,
    726.42, 726.66, 726.92, 727.19, 727.43, 727.67, 727.94, 728.2, 728.44, 728.68,
    728.95, 729.19, 729.45, 729.7, 730.0,
]
hcn_red_y = [
    -0.1, -0.05, 0.02, 0.11, 0.08, 0.09, 0.07, -0.02, -0.02, -0.03,
    0.02, 0.03, -0.02, 0.05, 0.13, 0.09, -0.03, -0.08, -0.08, -0.04,
    0.04, 0.07, 0.05, 0.04, 0.0, 0.0, 0.05, 0.11, 0.18, 0.18,
    0.07, -0.08, -0.15, -0.16, -0.08, -0.1, -0.18, -0.11, 0.02, 0.04,
    -0.04, 0.0, 0.02, -0.02, -0.04, 0.0, -0.02, 0.02, 0.0, -0.05,
    -0.09, -0.03, -0.11, -0.15, -0.03, 0.12, 0.08, -0.08, -0.23, -0.2,
    -0.04, -0.02, -0.03, 0.08, 0.15, 0.05, 0.02, 0.05, 0.04, 0.05,
    0.07, 0.04, -0.04, -0.04, 0.02, 0.09, 0.12, 0.11, 0.08, 0.05,
    -0.03, -0.04, -0.07, -0.03, -0.05, -0.11, -0.11, -0.07, -0.07, -0.02,
    0.03, -0.03, -0.08, -0.13, -0.04, 0.08, 0.02, -0.04, 0.04, 0.13,
    0.14, 0.08, -0.05, -0.08, 0.05, 0.05, 0.04, 0.25, 0.22, 0.33,
    0.33, 0.25, 0.14, 0.08, 0.08, 0.09, 0.19, 0.29, 0.2, 0.14,
    -0.08, -0.71, -1.34, -1.91, -1.67, -0.87, -0.52, -0.36, 0.08, 0.12,
    0.08, 0.0, -0.03, 0.07, 0.07, 0.22, 0.16, 0.03, -0.11, -0.08,
    -0.13, -0.22, -0.08, 0.14, 0.0, -0.03, 0.02, 0.29, 0.3, 0.25,
    0.07, 0.08, 0.04, 0.05, 0.3,
]

# C4H4O, unit 1e-5 (broken axis 740 | 743)
c4h4o_blue_x = [
    730.0, 730.26, 730.51, 730.76, 731.0, 731.26, 731.5, 731.74, 732.0, 732.24,
    732.5, 732.76, 733.0, 733.26, 733.51, 733.75, 734.0, 734.25, 734.5, 734.76,
    735.02, 735.27, 735.52, 735.78, 736.03, 736.27, 736.53, 736.77, 737.01, 737.27,
    737.52, 737.77, 738.03, 738.3, 738.54, 738.78, 739.02, 739.28, 739.53, 739.78,
    740.02, 743.0, 743.24, 743.5, 743.73, 743.98, 744.24, 744.5, 744.74, 744.99,
    745.24, 745.48, 745.73, 745.99, 746.24, 746.5, 746.74, 746.98, 747.22, 747.45,
    747.64, 747.76, 748.0, 748.24, 748.5, 748.74, 748.99, 749.24, 749.5, 749.74,
    750.0, 750.25, 750.5, 750.76, 751.0, 751.25, 751.51, 751.76, 752.01, 752.27,
    752.52, 752.76, 753.03,
]
c4h4o_blue_y = [
    0.39, 0.47, -0.02, 0.04, 0.17, -0.51, -0.5, -0.06, -0.45, -0.04,
    0.73, 0.77, -0.04, -0.07, -0.4, -0.39, -0.27, 0.02, -0.24, -0.02,
    -0.27, 0.1, 0.84, 0.56, -0.5, 0.17, 0.3, 0.64, 0.39, -0.24,
    -0.58, 0.56, 0.39, 0.3, 0.3, 0.09, -0.47, -0.04, -0.51, -0.09,
    0.1, 0.45, -0.07, -0.6, 0.15, -0.26, -1.71, -3.84, -2.44, -0.16,
    0.28, 0.0, -0.09, -0.05, 0.09, -0.86, -0.2, 0.41, 1.05, 1.2,
    1.01, 0.75, 0.09, 0.62, 0.64, 0.66, 0.53, 0.81, 0.03, 0.21,
    0.32, 0.66, 0.53, 0.15, -0.66, -0.07, 0.06, -0.26, -0.41, -0.07,
    -0.97, -0.95, -0.41,
]
c4h4o_red_x = [
    730.0, 730.26, 730.51, 730.76, 731.0, 731.26, 731.5, 731.74, 732.0, 732.24,
    732.5, 732.76, 733.0, 733.26, 733.51, 733.75, 734.0, 734.25, 734.5, 734.76,
    735.02, 735.27, 735.52, 735.78, 736.03, 736.27, 736.53, 736.77, 737.01, 737.27,
    737.52, 737.77, 738.03, 738.3, 738.54, 738.78, 739.02, 739.28, 739.53, 739.78,
    740.02, 743.0, 743.24, 743.5, 743.73, 743.98, 744.24, 744.5, 744.74, 744.99,
    745.24, 745.48, 745.73, 745.99, 746.24, 746.5, 746.74, 746.98, 747.22, 747.5,
    747.76, 748.0, 748.24, 748.5, 748.74, 748.99, 749.24, 749.5, 749.74, 750.0,
    750.25, 750.5, 750.76, 751.0, 751.25, 751.51, 751.76, 752.01, 752.27, 752.52,
    752.76, 753.03,
]
c4h4o_red_y = [
    0.0, 0.04, 0.21, 0.56, 0.75, 0.3, -0.02, -0.07, -0.23, -0.21,
    0.39, 0.58, 0.09, -0.07, -0.21, -0.45, -0.39, -0.09, 0.02, 0.07,
    -0.04, -0.02, 0.5, 0.6, 0.17, 0.13, 0.13, 0.19, 0.15, 0.09,
    -0.02, 0.02, -0.07, -0.13, 0.15, 0.23, 0.0, 0.0, -0.1, -0.13,
    0.02, -0.33, -0.4, -0.17, -0.17, -0.65, -1.79, -3.33, -2.31, -0.37,
    0.02, -0.09, -0.2, -0.11, 0.0, 0.0, 0.02, 0.1, 0.45, 0.59,
    0.29, 0.21, 0.34, 0.42, 0.32, 0.17, 0.1, 0.03, 0.03, 0.19,
    0.49, 0.58, 0.36, 0.12, 0.03, 0.02, -0.03, 0.28, 0.58, 0.12,
    -0.22, 0.06,
]

# C2H2, unit 1e-5 (broken axis 715 | 726)
c2h2_blue_x = [
    700.0, 700.24, 700.5, 700.74, 701.0, 701.25, 701.51, 701.75, 702.01, 702.25,
    702.52, 702.76, 703.02, 703.26, 703.5, 703.76, 704.0, 704.27, 704.53, 704.77,
    705.03, 705.27, 705.53, 705.77, 706.04, 706.28, 706.54, 706.78, 707.04, 707.28,
    707.55, 707.79, 708.05, 708.29, 708.55, 708.79, 709.05, 709.3, 709.56, 709.8,
    710.06, 710.3, 710.56, 710.8, 711.07, 711.31, 711.57, 711.81, 712.07, 712.31,
    712.58, 712.82, 713.08, 713.32, 713.58, 713.82, 714.08, 714.33, 714.59, 714.83,
    725.94, 726.27, 726.57, 726.87, 727.27, 727.65, 727.95, 728.25, 728.52, 728.77,
    729.07, 729.45, 729.77, 730.08, 730.38, 730.7, 731.13, 731.45, 731.78, 732.08,
    732.4, 732.7, 733.0, 733.33, 733.63, 733.96, 734.26, 734.58, 734.91, 735.26,
    735.58, 735.89, 736.2, 736.5, 736.8, 737.0, 737.24, 737.53, 737.81, 738.04,
    738.27, 738.55, 738.85, 739.15, 739.42, 739.77, 740.0, 740.28, 740.58, 740.85,
    741.15, 741.45, 741.77, 742.07, 742.37, 742.7, 743.0, 743.29, 743.57, 743.85,
    744.15, 744.45, 744.77, 745.07, 745.37, 745.69, 745.99, 746.29, 746.57, 746.84,
    747.14, 747.44, 747.72, 748.06, 748.36, 748.64, 748.99, 749.29, 749.56, 749.84,
    750.21, 750.48, 750.76, 751.06, 751.41, 751.75, 752.1, 752.37, 752.63, 752.9,
    753.13, 753.43, 753.76, 754.06, 754.35, 754.63, 754.98, 755.28, 755.6, 755.9,
    756.24, 756.59, 756.89, 757.21, 757.51, 757.81, 758.13, 758.43, 758.73, 759.01,
    759.35, 759.7, 760.05, 760.44, 760.74, 761.04, 761.36, 761.66, 761.96, 762.24,
    762.51, 762.81, 763.16, 763.5, 763.9, 764.19, 764.54, 764.88, 765.23, 765.58,
    765.92, 766.27, 766.73, 767.07, 767.42, 767.76, 768.23, 768.57, 768.92, 769.26,
    769.61, 770.0,
]
c2h2_blue_y = [
    -0.84, -0.18, -0.52, -0.79, -0.71, -0.37, 0.16, 0.87, 0.6, 0.0,
    -0.31, -0.52, -0.37, 0.47, 0.87, 0.39, 0.21, 0.34, -0.58, -0.52,
    0.0, -0.05, -0.79, -0.52, -0.58, -0.45, 0.55, 0.52, -0.58, -0.79,
    -0.71, -0.97, -0.84, -0.1, -0.05, 0.16, 0.21, -0.63, -1.1, -0.45,
    0.08, 0.0, -0.58, -0.52, -0.1, -0.18, 0.6, 0.52, 0.73, 0.08,
    -0.71, -1.5, -0.45, -0.05, -0.37, 0.0, 0.21, 0.26, 0.47, 0.34,
    0.87, 0.47, -0.05, 0.42, 0.68, 1.0, 0.6, -0.18, -0.1, -0.58,
    -3.46, -12.4, -9.24, -4.51, -2.55, -2.89, -2.28, -1.23, -0.26, -0.18,
    -0.71, -0.58, -0.31, -0.71, -0.26, -0.37, -0.18, 0.0, -0.18, 0.0,
    -0.18, -0.35, 0.5, 0.6, 0.6, 0.19, -0.21, -0.21, 0.72, 0.37,
    -0.74, -2.29, -1.86, -1.28, -0.48, 0.53, 0.59, 0.27, -1.14, -0.61,
    -0.48, 0.59, 2.05, 1.25, 0.72, 0.64, -1.01, -2.07, -1.68, 0.27,
    0.45, 0.05, 0.0, -0.08, 0.19, -0.69, -0.88, -0.88, -1.14, 0.11,
    0.32, -0.21, -1.01, -2.34, -0.74, 0.11, 0.27, 0.45, -0.21, -0.88,
    -1.86, -1.81, -0.61, -0.48, -0.48, -0.69, -0.88, -0.48, -1.86, -1.76,
    -0.21, 0.11, 0.85, 0.59, 0.37, -0.21, -1.41, -1.54, -1.49, -1.81,
    -1.81, 0.27, 0.05, -1.33, -1.33, -0.35, -0.21, -0.16, -0.16, -0.48,
    -0.96, -1.14, -1.06, 0.53, 0.11, -0.21, -0.27, -1.14, -2.55, -2.07,
    -0.21, 0.05, 0.45, 0.53, 0.45, -0.27, -0.35, 0.11, 0.19, 0.27,
    -0.16, -0.35, -2.34, -1.28, 0.0, 0.0, -0.27, 0.59, 1.06, 0.19,
    0.32, 0.8,
]
c2h2_red_x = [
    700.0, 700.24, 700.5, 700.74, 701.0, 701.35, 701.75, 702.15, 702.56, 702.96,
    703.26, 703.56, 703.86, 704.16, 704.57, 704.97, 705.37, 705.67, 706.08, 706.48,
    706.88, 707.28, 707.59, 707.79, 708.09, 708.39, 708.79, 709.2, 709.6, 710.0,
    710.3, 710.6, 711.01, 711.41, 711.81, 712.21, 712.52, 712.72, 713.02, 713.32,
    713.62, 714.02, 714.43, 714.83, 725.94, 726.57, 727.2, 727.82, 728.32, 728.7,
    728.95, 729.2, 729.45, 729.7, 729.95, 730.2, 730.58, 730.95, 731.33, 731.7,
    732.2, 732.7, 733.2, 733.58, 733.96, 734.33, 734.83, 735.46, 736.09, 736.84,
    737.59, 737.81, 738.16, 738.55, 738.85, 739.15, 739.77, 740.58, 741.15, 741.73,
    742.42, 742.88, 743.23, 743.57, 743.85, 744.49, 745.07, 745.53, 745.88, 746.34,
    747.26, 747.6, 748.02, 748.36, 748.76, 749.56, 749.84, 750.21, 750.6, 751.18,
    751.87, 752.33, 752.67, 753.02, 753.36, 754.17, 754.63, 754.98, 755.44, 755.78,
    756.47, 756.89, 757.28, 757.63, 757.97, 758.43, 758.78, 759.12, 759.7, 760.16,
    760.85, 761.43, 761.66, 762.0, 762.35, 762.7, 763.39, 763.96, 764.31, 764.77,
    765.46, 765.92, 766.39, 766.73, 767.12, 767.53, 768.46, 768.92, 769.26, 770.0,
]
c2h2_red_y = [
    0.47, 0.21, -0.26, -0.26, -0.1, 0.0, 0.08, 0.03, 0.0, 0.21,
    0.55, 0.16, -0.1, -0.1, -0.1, -0.18, -0.26, -0.1, -0.05, -0.1,
    -0.05, -0.18, -0.58, -1.15, -0.84, -0.26, -0.1, -0.05, -0.1, 0.0,
    -0.45, -0.58, -0.31, 0.0, 0.08, -0.18, -0.79, -1.36, -0.58, -0.18,
    0.08, 0.16, 0.0, -0.26, -0.1, -0.1, 0.0, -0.1, -0.26, -0.45,
    -2.15, -7.4, -12.5, -8.7, -4.25, -2.28, -1.76, -1.15, -0.58, -0.18,
    -0.26, -0.31, -0.26, -0.97, -0.97, -0.26, -0.18, -0.1, -0.1, -0.1,
    -0.05, 0.05, -0.21, -1.49, -0.88, -0.16, 0.0, 0.0, -0.16, 0.0,
    -0.08, -0.48, -2.55, -1.41, -0.08, 0.0, -0.21, -0.69, -0.16, -0.08,
    -0.08, -0.35, -2.21, -0.48, 0.0, 0.05, 0.11, -0.96, -0.48, -0.16,
    -0.08, -0.48, -1.81, -0.88, -0.08, 0.0, 0.0, -0.88, -0.16, 0.11,
    0.05, -0.21, -1.33, -0.48, -0.16, 0.05, 0.19, -0.16, -0.74, -0.08,
    0.0, -0.08, -0.74, -1.81, -0.74, -0.16, 0.0, 0.05, -0.48, -0.21,
    -0.08, -0.08, -0.48, -1.41, -0.35, 0.0, 0.0, -0.21, -0.08, 0.0,
]


def st(mant, exp):
    return f"{mant}x10<sup>{exp}</sup>"


panels = [
    dict(bx=h2s_blue_x, by=h2s_blue_y, rx=h2s_red_x, ry=h2s_red_y, unit=1e-6,
         yrange=(-6, 5), yticks=[-6, -4, -2, 0, 2, 4],
         ytext=[st("-6.0", -6), st("-4.0", -6), st("-2.0", -6), "0.0", st("2.0", -6), st("4.0", -6)],
         yminor=[-5, -3, -1, 1, 3],
         segs=[dict(xr=(1215, 1270), px=(112, 1084.5), ticks=[1220, 1230, 1240, 1250, 1260, 1270],
                    minor=[1225, 1235, 1245, 1255, 1265])]),
    dict(bx=hcooh_blue_x, by=hcooh_blue_y, rx=hcooh_red_x, ry=hcooh_red_y, unit=1e-5,
         yrange=(-6, 1.5), yticks=[-6, -5, -4, -3, -2, -1, 0, 1],
         ytext=[st("-6.0", -5), st("-5.0", -5), st("-4.0", -5), st("-3.0", -5), st("-2.0", -5),
                st("-1.0", -5), "0.0", st("1.0", -5)],
         yminor=[-5.5, -4.5, -3.5, -2.5, -1.5, -0.5, 0.5],
         segs=[dict(xr=(1070, 1130), px=(112, 1084.5), ticks=[1070, 1080, 1090, 1100, 1110, 1120, 1130],
                    minor=[1075, 1085, 1095, 1105, 1115, 1125])]),
    dict(bx=hono_blue_x, by=hono_blue_y, rx=hono_red_x, ry=hono_red_y, unit=1e-5,
         yrange=(-4, 0.5), yticks=[-4, -3, -2, -1, 0],
         ytext=[st("-4.0", -5), st("-3.0", -5), st("-2.0", -5), st("-1.0", -5), "0.0"],
         yminor=[-3.5, -2.5, -1.5, -0.5],
         segs=[dict(xr=(780, 860), px=(112, 1084.5), ticks=[780, 800, 820, 840, 860],
                    minor=[790, 810, 830, 850])]),
    dict(bx=hcn_blue_x, by=hcn_blue_y, rx=hcn_red_x, ry=hcn_red_y, unit=1e-5,
         yrange=(-2.5, 1.0), yticks=[-2, -1, 0, 1],
         ytext=[st("-2.0", -5), st("-1.0", -5), "0.0", st("1.0", -5)],
         yminor=[-1.5, -0.5, 0.5],
         segs=[dict(xr=(680, 715), px=(112, 981.5), ticks=[680, 685, 690, 695, 700, 705, 710],
                    minor=[682.5, 687.5, 692.5, 697.5, 702.5, 707.5, 712.5]),
               dict(xr=(724.9, 730), px=(995, 1084.5), ticks=[725, 730], minor=[727.5])]),
    dict(bx=c4h4o_blue_x, by=c4h4o_blue_y, rx=c4h4o_red_x, ry=c4h4o_red_y, unit=1e-5,
         yrange=(-4.5, 1.0), yticks=[-4, -3, -2, -1, 0, 1],
         ytext=[st("-4.0", -5), st("-3.0", -5), st("-2.0", -5), st("-1.0", -5), "0.0", st("1.0", -5)],
         yminor=[-3.5, -2.5, -1.5, -0.5, 0.5],
         segs=[dict(xr=(730, 740), px=(112, 588), ticks=[730, 735], minor=[732.5, 737.5]),
               dict(xr=(743.0, 753.03), px=(608, 1084.5), ticks=[745, 750], minor=[747.5, 752.5])]),
    dict(bx=c2h2_blue_x, by=c2h2_blue_y, rx=c2h2_red_x, ry=c2h2_red_y, unit=1e-5,
         yrange=(-15, 2), yticks=[-12, -8, -4, 0],
         ytext=[st("-1.2", -4), st("-8.0", -5), st("-4.0", -5), "0.0"],
         yminor=[-14, -10, -6, -2],
         segs=[dict(xr=(700, 714.9), px=(112, 395), ticks=[700, 710], minor=[705]),
               dict(xr=(725.9, 770), px=(410, 1084.5), ticks=[730, 740, 750, 760, 770],
                    minor=[735, 745, 755, 765])]),
]

for p in panels:
    assert len(p["bx"]) == len(p["by"]), ("blue", len(p["bx"]), len(p["by"]))
    assert len(p["rx"]) == len(p["ry"]), ("red", len(p["rx"]), len(p["ry"]))

common = dict(showline=True, linecolor="black", linewidth=2, ticks="inside", ticklen=8,
              tickwidth=1.5, tickcolor="black", showgrid=False, zeroline=False,
              fixedrange=True, automargin=False)
XFONT = dict(family=FONT, size=22, color="black")
YFONT = dict(family=FONT, size=23, color="black")


def minor(vals):
    return dict(tickmode="array", tickvals=vals, ticks="inside", ticklen=5, tickwidth=1.5,
                tickcolor="black", showgrid=False)


def akey(kind, i):
    return f"{kind}axis" if i == 1 else f"{kind}axis{i}"


def aref(kind, i):
    return kind if i == 1 else f"{kind}{i}"


fig = go.Figure()
lay = dict(width=W, height=H, autosize=False,
           margin=dict(l=0, r=0, t=0, b=0, pad=0, autoexpand=False),
           paper_bgcolor="white", plot_bgcolor="white", showlegend=False)
shapes = []
xi = yi = 0
for k, p in enumerate(panels):
    top = 13.3 + 255.3 * k
    bot = top + 213.3
    ydom = [1 - bot / H, 1 - top / H]
    u = p["unit"]
    yr = [p["yrange"][0] * u, p["yrange"][1] * u]
    ytv = [v * u for v in p["yticks"]]
    ymv = [v * u for v in p["yminor"]]
    segs = p["segs"]
    yi += 1
    ymain = yi
    yright = None
    if len(segs) > 1:
        yi += 1
        yright = yi
    xids = []
    for s in segs:
        xi += 1
        xids.append(xi)
    for j, s in enumerate(segs):
        xid = xids[j]
        yid = ymain if j == 0 else yright
        lay[akey("x", xid)] = dict(common, domain=[s["px"][0] / W, s["px"][1] / W],
                                   anchor=aref("y", yid), range=list(s["xr"]),
                                   tickmode="array", tickvals=s["ticks"],
                                   ticktext=[str(t) for t in s["ticks"]], tickfont=XFONT,
                                   ticklabelstandoff=-4,
                                   minor=minor(s["minor"]), mirror="ticks")
        lo, hi = s["xr"][0] - 0.5, s["xr"][1] + 0.5
        for xs, ys, col in ((p["bx"], p["by"], BLUE), (p["rx"], p["ry"], RED)):
            sx = [x for x in xs if lo <= x <= hi]
            sy = [y * u for x, y in zip(xs, ys) if lo <= x <= hi]
            fig.add_trace(go.Scatter(x=sx, y=sy, mode="lines", line=dict(color=col, width=1.3),
                                     xaxis=aref("x", xid), yaxis=aref("y", yid),
                                     hoverinfo="skip"))
        if j > 0:
            # axis-break marks between segment j-1 and j
            gl = segs[j - 1]["px"][1]
            gr = s["px"][0]
            c = (gl + gr) / 2
            for cx in (c - 8, c + 8):
                for yy in (top, bot):
                    shapes.append(dict(type="line", xref="paper", yref="paper",
                                       x0=(cx - 7) / W, y0=1 - (yy + 6) / H,
                                       x1=(cx + 7) / W, y1=1 - (yy - 6) / H,
                                       line=dict(color="black", width=2)))
    lay[akey("y", ymain)] = dict(common, domain=ydom, anchor=aref("x", xids[0]), range=yr,
                                 tickmode="array", tickvals=ytv, ticktext=p["ytext"],
                                 tickfont=YFONT, minor=minor(ymv),
                                 mirror="ticks" if yright is None else False)
    if yright is not None:
        lay[akey("y", yright)] = dict(common, domain=ydom, anchor=aref("x", xids[-1]),
                                      side="right", range=yr, tickmode="array", tickvals=ytv,
                                      showticklabels=False, minor=minor(ymv))


def ann(text, cx, cy, size, family=FONT, color="black"):
    return dict(x=cx / W, y=1 - cy / H, xref="paper", yref="paper", text=text, showarrow=False,
                xanchor="center", yanchor="middle", borderpad=0,
                font=dict(family=family, size=size, color=color))


MOL = 46
SUB = 25
NU = 44
NSUB = 22
annotations = [
    # molecule names
    ann("H", 1016, 183.5, MOL), ann("2", 1041.5, 211, SUB), ann("S", 1066, 183.5, MOL),
    ann("HCOOH", 985.5, 443, MOL),
    ann("HONO", 1008, 705, MOL),
    ann("HCN", 1021, 953, MOL),
    ann("C", 954.5, 1205, MOL), ann("4", 977, 1227.5, SUB), ann("H", 1001, 1205, MOL),
    ann("4", 1023, 1227.5, SUB), ann("O", 1058, 1205, MOL),
    ann("C", 991, 1456, MOL), ann("2", 1014, 1482.5, SUB), ann("H", 1038, 1456, MOL),
    ann("2", 1062.6, 1482.5, SUB),
    # band labels
    ann("ν", 810.5, 175.3, NU, SERIF, RED), ann("2", 829, 200.5, NSUB, FONT, RED),
    ann("ν", 715, 407, NU, SERIF, RED), ann("6", 733, 433, NSUB, FONT, RED),
    ann("trans–ν", 325.5, 685, 46, SERIF, RED), ann("4", 402.7, 712.5, NSUB, FONT, RED),
    ann("cis–ν", 918, 650, 46, SERIF, RED), ann("4", 976, 677.5, NSUB, FONT, RED),
    ann("ν", 862.5, 921, NU, SERIF, RED), ann("2", 880, 947.5, NSUB, FONT, RED),
    ann("ν", 713.5, 1193.3, NU, SERIF, RED), ann("20", 737, 1221.5, NSUB, FONT, RED),
    ann("ν", 493.5, 1432.3, NU, SERIF, RED), ann("5", 511, 1459, NSUB, FONT, RED),
]

lay["shapes"] = shapes
lay["annotations"] = annotations
fig.update_layout(**lay)
fig.write_html("out.html", config={"responsive": False})
